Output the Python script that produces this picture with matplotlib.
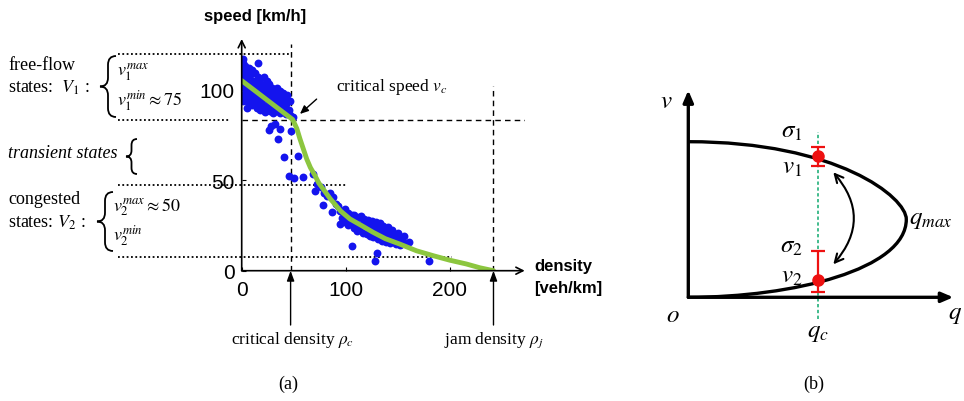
import matplotlib.pyplot as plt
from matplotlib.path import Path
from matplotlib.patches import PathPatch

plt.rcParams['font.family'] = ['Liberation Serif', 'DejaVu Serif']
plt.rcParams['mathtext.fontset'] = 'stix'

# ---- panel (a): speed-density scatter
# free-flow blob
free_x = [0, 0, 1, 1, 1, 2, 2, 3, 4, 4, 4, 5, 5, 6, 7, 7, 8, 8, 9, 10,
          10, 11, 11, 12, 13, 13, 14, 15, 15, 16, 16, 17, 18, 18, 19, 19,
          20, 21, 21, 22, 22, 23, 24, 24, 25, 26, 26, 27, 28, 28, 29, 30,
          30, 31, 32, 32, 33, 34, 34, 35, 36, 37, 37, 38, 39, 40, 40, 41,
          42, 43, 43, 44, 45, 46, 46, 2, 6, 12, 17, 23, 29, 35, 41, 16, 1, 5, 20, 9]
free_y = [112, 97, 115, 106, 94, 109, 101, 113, 104, 96, 110, 99, 107, 93, 112, 103, 108, 96, 100, 111,
          92, 105, 97, 101, 109, 93, 104, 98, 90, 107, 95, 101, 106, 89, 103, 94,
          99, 107, 91, 102, 87.5, 96, 105, 90, 100, 94, 103, 88, 98, 92, 101, 95,
          87, 99, 91, 96, 88, 101, 94, 97, 90, 99, 87, 93, 96, 91, 98, 88,
          95, 92, 86.5, 97, 89, 94, 86, 104, 101, 94, 92, 99, 97, 92, 89, 114.7, 117, 90, 95, 92]
trans_x = [26.5, 32, 37, 35, 47.4, 40.4, 54, 45, 50.6, 58.6, 10, 28, 49]
trans_y = [77.7, 81, 78.3, 72.8, 77.3, 62.6, 63.5, 52.5, 51, 51.6, 91.5, 80, 85]
# congested blob and stragglers
cong_x = [69, 70.5, 72, 76, 79, 81.7, 78.5, 83, 85, 88, 86.5, 91, 93, 94, 94.5,
          96, 96, 99, 99, 100, 102, 102, 104, 105, 106, 108, 108, 109, 111, 111, 113,
          114, 115, 117, 117, 118, 120, 120, 121, 123, 123, 125, 126, 126, 128, 129, 130,
          131, 132, 133, 135, 135, 136, 138, 138, 139, 141, 141, 143, 144, 144, 146,
          147, 148, 150, 150, 152, 153, 155, 156, 158, 161, 106, 130, 128, 180]
cong_y = [53.4, 44, 48, 46, 43, 41, 36.3, 42, 43, 40.5, 32.2, 37, 36, 25.8, 33,
          33, 29, 34, 27, 30.5, 32, 25, 29, 27, 31, 30.5, 23.5, 27, 26, 22, 29.5,
          24, 30, 21, 26.5, 28.5, 24.5, 20.5, 28, 19, 25, 27.5, 22, 18.5, 24, 27, 20,
          17.5, 23, 26.5, 21, 16.5, 24.5, 19, 22.5, 16, 20, 24, 15.5, 18.5, 22.5, 17,
          20.5, 14.5, 17.5, 21, 14, 18, 16, 19, 15, 15.7, 13.8, 10, 5.5, 5.5]
curve_x = [0, 49, 53, 56, 62.5, 66, 70.5, 74, 78.5, 85, 88, 95, 104, 115, 126, 138,
           152, 168, 184, 200, 216, 229, 242]
curve_y = [105, 83.5, 78.5, 72.8, 61.7, 57, 52.5, 48.5, 45, 39.8, 37.8, 33, 28.6, 25, 21.3, 17.7,
           14.7, 11, 8.3, 5.8, 3.7, 1.6, 0]
rho_c, rho_j, v_c = 47, 242, 83
guide_levels = [119.5, 83, 47.5, 7.5]
guide_ends = [47, -11, 100, 202]
x_ticks = [0, 100, 200]
y_ticks = [0, 50, 100]

# ---- panel (b): schematic speed-flow diagram
fd_upper = [(0, 155.6), (149, 155.6), (218, 100), (218, 78)]
fd_lower = [(218, 78), (218, 28), (105, 0), (0, 0)]
q_c = 129.4
v_pts = [141, 17.3]
err_lo = [10, 12.3]
err_hi = [9, 28.7]

W, H = 964, 402
fig = plt.figure(figsize=(W / 100, H / 100), dpi=100)


def px_axes(x0, y0, x1, y1):
    return fig.add_axes([x0 / W, 1 - y1 / H, (x1 - x0) / W, (y1 - y0) / H])


ax = px_axes(241.7, 40, 524.7, 271.7)
ax.set_xlim(0, 272)
ax.set_ylim(0, 128)
for s in ax.spines.values():
    s.set_visible(False)
ax.patch.set_alpha(0)

for lvl, end in zip(guide_levels, guide_ends):
    ax.plot([-119, end], [lvl, lvl], ls=(0, (1, 1.4)), lw=1.3, color='k', clip_on=False, zorder=1)
dash = (0, (4, 3))
ax.plot([rho_c, rho_c], [0, 125], ls=dash, lw=1, color='k', zorder=1)
ax.plot([0, 272], [v_c, v_c], ls=dash, lw=1, color='k', zorder=1)
ax.plot([rho_j, rho_j], [0, 102], ls=dash, lw=1, color='k', zorder=1)

blue = '#1414ee'
ax.scatter(free_x + trans_x + cong_x, free_y + trans_y + cong_y, s=32, color=blue,
           linewidths=0, zorder=2)
ax.plot(curve_x, curve_y, color='#8cc63f', lw=3.5, solid_capstyle='round', zorder=3)

arr = dict(lw=1.2, color='k', shrinkA=0, shrinkB=0)
ax.annotate('', xy=(272, 0), xytext=(0, 0), annotation_clip=False,
            arrowprops=dict(arrowstyle='->,head_length=0.5,head_width=0.25', **arr))
ax.annotate('', xy=(0, 128), xytext=(0, 0), annotation_clip=False,
            arrowprops=dict(arrowstyle='->,head_length=0.5,head_width=0.25', **arr))
ax.annotate('', xy=(56, 86.6), xytext=(72, 94.8),
            arrowprops=dict(arrowstyle='-|>,head_length=0.5,head_width=0.22', lw=1, color='k',
                            shrinkA=0, shrinkB=0))
for xv in (rho_c, rho_j):
    ax.annotate('', xy=(xv, 0), xytext=(xv, -30), annotation_clip=False,
                arrowprops=dict(arrowstyle='-|>,head_length=0.6,head_width=0.22', lw=1,
                                color='k', shrinkA=0, shrinkB=0))

ax.set_xticks(x_ticks)
ax.set_yticks(y_ticks)
ax.tick_params(direction='in', length=3, width=0.8, labelsize=15)
ax.tick_params(axis='x', pad=7)
ax.tick_params(axis='y', pad=5)
for lbl in ax.get_xticklabels() + ax.get_yticklabels():
    lbl.set_fontfamily('Liberation Sans')

ax.text(91, 102, 'critical speed $v_c$', fontsize=12.5, va='center', ha='left')
ax.text(rho_c + 2, -38, r'critical density $\rho_c$', fontsize=12.5, va='center', ha='center',
        clip_on=False)
ax.text(rho_j, -38, r'jam density $\rho_j$', fontsize=12.5, va='center', ha='center',
        clip_on=False)

# ---- overlay in pixel coordinates for the side annotations
ov = fig.add_axes([0, 0, 1, 1])
ov.set_xlim(0, W)
ov.set_ylim(H, 0)
ov.axis('off')

sans_b = dict(fontfamily='Liberation Sans', fontweight='bold', fontsize=12)
ov.text(255, 16, 'speed [km/h]', ha='center', va='center', **sans_b)
ov.text(534, 267, 'density', ha='left', va='center', **sans_b)
ov.text(534, 289, '[veh/km]', ha='left', va='center', **sans_b)


def brace(x_tip, y_top, y_bot, w):
    ym = (y_top + y_bot) / 2
    xr = x_tip + w
    xm = x_tip + w / 2
    r = w * 0.55
    verts = [(xr, y_top), (xm, y_top), (xm, y_top + r), (xm, ym - r), (xm, ym), (x_tip, ym),
             (xm, ym), (xm, ym + r), (xm, y_bot - r), (xm, y_bot), (xr, y_bot)]
    codes = [Path.MOVETO, Path.CURVE3, Path.CURVE3, Path.LINETO, Path.CURVE3, Path.CURVE3,
             Path.CURVE3, Path.CURVE3, Path.LINETO, Path.CURVE3, Path.CURVE3]
    ov.add_patch(PathPatch(Path(verts, codes), fill=False, lw=1.3, color='k'))


brace(100, 57, 118, 16)
brace(126, 140, 175, 11)
brace(97, 193, 252, 16)

fs = 13
ov.text(8, 66, 'free-flow', fontsize=fs, va='center')
ov.text(8, 88, 'states:  $V_1$ :', fontsize=fs, va='center')
ov.text(117, 72, '$v_1^{max}$', fontsize=fs, va='center')
ov.text(117, 101, r'$v_1^{min} \approx 75$', fontsize=fs, va='center')
ov.text(8, 154, 'transient states', fontsize=fs, va='center', style='italic')
ov.text(8, 200, 'congested', fontsize=fs, va='center')
ov.text(8, 223, 'states: $V_2$ :', fontsize=fs, va='center')
ov.text(113, 207, r'$v_2^{max} \approx 50$', fontsize=fs, va='center')
ov.text(113, 236, '$v_2^{min}$', fontsize=fs, va='center')

ov.text(288, 384, '(a)', fontsize=13, ha='center', va='center')
ov.text(814, 384, '(b)', fontsize=13, ha='center', va='center')

# ---- panel (b)
bx = px_axes(688.3, 93.3, 953.3, 298.3)
bx.set_xlim(0, 265)
bx.set_ylim(0, 205)
bx.axis('off')

verts = fd_upper + fd_lower[1:]
codes = [Path.MOVETO] + [Path.CURVE4] * 6
bx.add_patch(PathPatch(Path(verts, codes), fill=False, lw=2.4, color='k', zorder=3))

thick = dict(lw=2.4, color='k', shrinkA=0, shrinkB=0)
bx.annotate('', xy=(265, 0), xytext=(0, 0), annotation_clip=False,
            arrowprops=dict(arrowstyle='-|>,head_length=0.7,head_width=0.3', **thick))
bx.annotate('', xy=(0, 207), xytext=(0, 0), annotation_clip=False,
            arrowprops=dict(arrowstyle='-|>,head_length=0.7,head_width=0.3', **thick))

bx.plot([q_c, q_c], [-22, 165], ls=(0, (2, 1.5)), color='#22b07a', lw=1.2, clip_on=False,
        zorder=2)
bx.errorbar([q_c, q_c], v_pts, yerr=[err_lo, err_hi], fmt='o', color='#ee1111', ms=8,
            capsize=5, elinewidth=1.6, capthick=1.6, zorder=5, clip_on=False)
bx.annotate('', xy=(145, 33), xytext=(145, 125),
            arrowprops=dict(arrowstyle='<->,head_length=0.6,head_width=0.3',
                            connectionstyle='arc3,rad=-0.43', lw=1.5, color='k',
                            shrinkA=0, shrinkB=0))

fb = 18
bx.text(114, 166, r'$\sigma_1$', fontsize=fb, ha='right', va='center')
bx.text(114, 130, r'$v_1$', fontsize=fb, ha='right', va='center')
bx.text(114, 51.6, r'$\sigma_2$', fontsize=fb, ha='right', va='center')
bx.text(114, 21.6, r'$v_2$', fontsize=fb, ha='right', va='center')
bx.text(221, 78, r'$q_{max}$', fontsize=fb, ha='left', va='center')
bx.text(-15, -18, r'$o$', fontsize=fb, ha='center', va='center')
bx.text(267, -17, r'$q$', fontsize=fb, ha='center', va='center')
bx.text(q_c, -35, r'$q_c$', fontsize=fb, ha='center', va='center')
bx.text(-21.6, 196.6, r'$v$', fontsize=fb, ha='center', va='center')

fig.savefig('out.png', dpi=100)
